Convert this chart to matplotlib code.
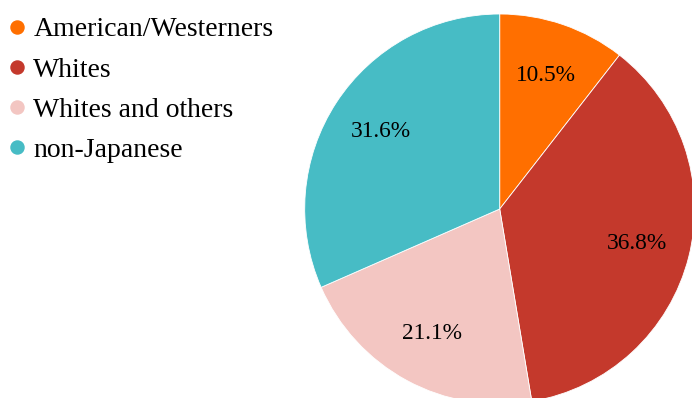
import matplotlib
matplotlib.use("Agg")
import matplotlib.pyplot as plt
from matplotlib.lines import Line2D

# Data
categories = ["American/Westerners", "Whites", "Whites and others", "non-Japanese"]
counts = [2, 7, 4, 6]
colors = ["#FF6F00", "#C4392C", "#F3C6C2", "#47BCC5"]

plt.rcParams["font.family"] = ["Liberation Serif", "DejaVu Serif"]

W, H, DPI = 692, 398, 100
fig = plt.figure(figsize=(W / DPI, H / DPI), dpi=DPI)
ax = fig.add_axes([0, 0, 1, 1])

# Pie geometry in pixels
cx, cy, r = 499.7, 209.0, 195.0

wedges, texts, autotexts = ax.pie(
    counts,
    colors=colors,
    startangle=90,
    counterclock=False,
    radius=1.0,
    center=(0, 0),
    autopct="%.1f%%",
    pctdistance=0.725,
    wedgeprops=dict(edgecolor="white", linewidth=0.6),
    textprops=dict(fontsize=16.8, color="black"),
    frame=True,
)
ax.set_xlim(-cx / r, (W - cx) / r)
ax.set_ylim(-(H - cy) / r, cy / r)
ax.set_aspect("equal")
ax.axis("off")

handles = [
    Line2D([], [], linestyle="none", marker="o", markersize=9.4,
           markerfacecolor=c, markeredgecolor=c)
    for c in colors
]
fig.legend(
    handles, categories,
    loc="upper left",
    bbox_to_anchor=(2 / W, 1.0 - 10 / H),
    frameon=False,
    fontsize=20,
    handlelength=0.6,
    handletextpad=0.28,
    labelspacing=0.53,
    borderaxespad=0.0,
    borderpad=0.25,
)

fig.savefig("out.png", dpi=DPI)
